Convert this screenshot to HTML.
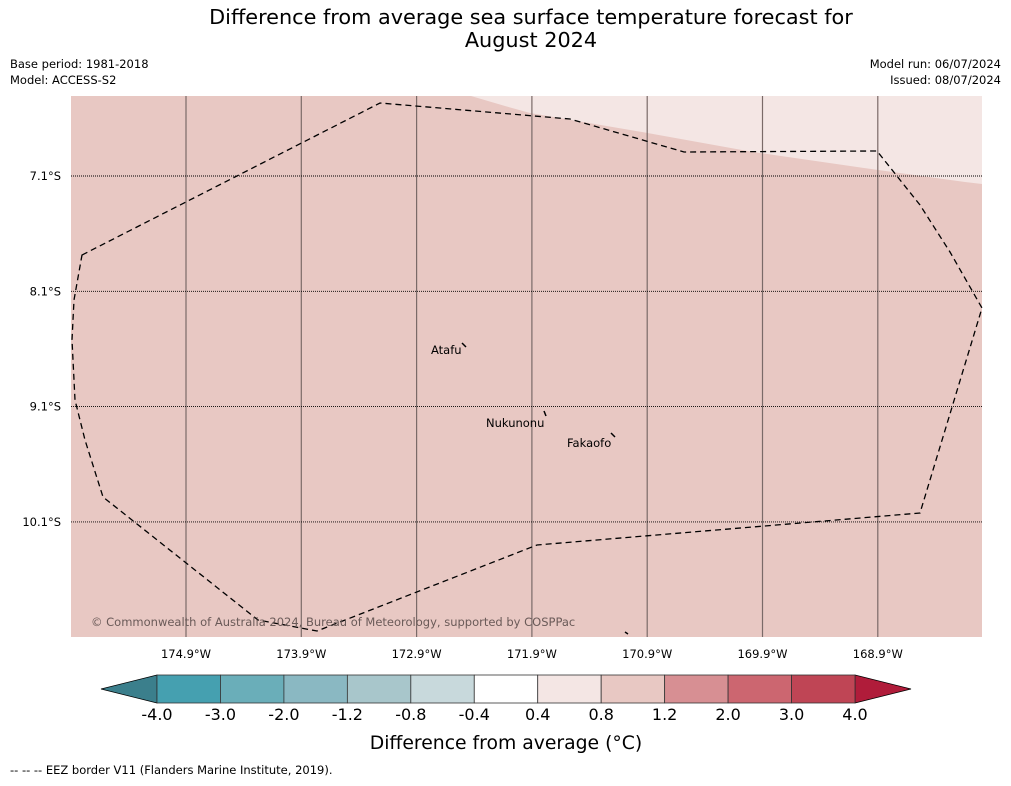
<!DOCTYPE html>
<html><head><meta charset="utf-8"><style>
body{margin:0;background:#fff;width:1011px;height:781px;overflow:hidden;font-family:"Liberation Sans","DejaVu Sans",sans-serif}
svg text{font-family:"DejaVu Sans","Liberation Sans",sans-serif}
</style></head><body>
<svg width="1011" height="781" viewBox="0 0 1011 781">
<text x="531" y="24" text-anchor="middle" font-size="20.8">Difference from average sea surface temperature forecast for</text>
<text x="531" y="47" text-anchor="middle" font-size="20.8">August 2024</text>
<text x="10" y="68" font-size="11.5">Base period: 1981-2018</text>
<text x="10" y="84" font-size="11.5">Model: ACCESS-S2</text>
<text x="1001" y="68" font-size="11.5" text-anchor="end">Model run: 06/07/2024</text>
<text x="1001" y="84" font-size="11.5" text-anchor="end">Issued: 08/07/2024</text>
<g>
<rect x="71" y="96" width="911" height="541" fill="#e8c8c3"/>
<polygon points="471,96 982,96 982,184 965,182 864,168 753,152 642,132 530,113 505,106" fill="#f4e6e4"/>
<g id="grid"></g>
<path d="M82,255 L380,103 L570,119 L684,152 L877,151 L920,205 L950,252 L982,308 L920,513 L537,545 L317,631 L258,620 L103,497 L85,440 L75,400 L72,340 L74,300 Z" fill="none" stroke="#000" stroke-width="1.3" stroke-dasharray="6,4"/>
<path d="M462,343 L466,347 M544,411 L546,416 M611,433 L615,437 M625,632 L628,634" stroke="#000" stroke-width="1.5"/>
<text x="431" y="354" font-size="11.5">Atafu</text>
<text x="486" y="427" font-size="11.5">Nukunonu</text>
<text x="567" y="447" font-size="11.5">Fakaofo</text>
<text x="91" y="626" font-size="11.5" fill="#6a5a58">© Commonwealth of Australia 2024, Bureau of Meteorology, supported by COSPPac</text>
</g>
<g id="axes"></g>
<g id="cbar"></g>
<text x="506" y="749" text-anchor="middle" font-size="18.8">Difference from average (°C)</text>
<text x="10" y="774" font-size="11.5">--  --  -- EEZ border V11 (Flanders Marine Institute, 2019).</text>
</svg>
<script>
const lonTicks=[-174.9,-173.9,-172.9,-171.9,-170.9,-169.9,-168.9];
const latTicks=[-7.1,-8.1,-9.1,-10.1];
const cbLevels=[-4.0,-3.0,-2.0,-1.2,-0.8,-0.4,0.4,0.8,1.2,2.0,3.0,4.0];
const cbColors=["#45a0b0","#6aaeb9","#8ab8c2","#a8c6cb","#c8d9dc","#ffffff","#f4e6e4","#e8c8c3","#d78f93","#cc6670","#bf4555"];
const NS="http://www.w3.org/2000/svg";
const xs=lon=>186+(lon+174.9)*115.3;
const ys=lat=>176+(-7.1-lat)*115.3;
function mk(t,a,p){const e=document.createElementNS(NS,t);for(const k in a)e.setAttribute(k,a[k]);p.appendChild(e);return e;}
const grid=document.getElementById('grid'),axes=document.getElementById('axes'),cb=document.getElementById('cbar');
lonTicks.forEach(l=>{const x=xs(l);
const ln=mk('line',{x1:x,x2:x,y1:96,y2:637,stroke:'#7a6a68','stroke-width':1.2},grid);


const t=mk('text',{x:x,y:658,'text-anchor':'middle','font-size':11.5},axes);t.textContent=Math.abs(l).toFixed(1)+'°W';

});
latTicks.forEach(l=>{const y=ys(l);
const ln=mk('line',{x1:71,x2:982,y1:y,y2:y,stroke:'#000','stroke-width':0.9,'stroke-dasharray':'1,1'},grid);


const t=mk('text',{x:61,y:y+4,'text-anchor':'end','font-size':11.5},axes);t.textContent=Math.abs(l).toFixed(1)+'°S';

});
const cx0=157,cx1=855,cy0=675,cy1=703,n=cbColors.length,w=(cx1-cx0)/n;
const lt=mk('polygon',{points:`101,689 ${cx0},${cy0} ${cx0},${cy1}`,fill:'#3b7f8c',stroke:'#000','stroke-width':0.8},cb);


const rt=mk('polygon',{points:`911,689 ${cx1},${cy0} ${cx1},${cy1}`,fill:'#b01c3a',stroke:'#000','stroke-width':0.8},cb);


cbColors.forEach((c,i)=>{const r=mk('rect',{x:cx0+i*w,y:cy0,width:w,height:cy1-cy0,fill:c,stroke:'#333','stroke-width':0.8},cb);

});
cbLevels.forEach((v,i)=>{const t=mk('text',{x:cx0+i*w,y:720,'text-anchor':'middle','font-size':16},cb);t.textContent=v.toFixed(1);

});
</script>
</body></html>
